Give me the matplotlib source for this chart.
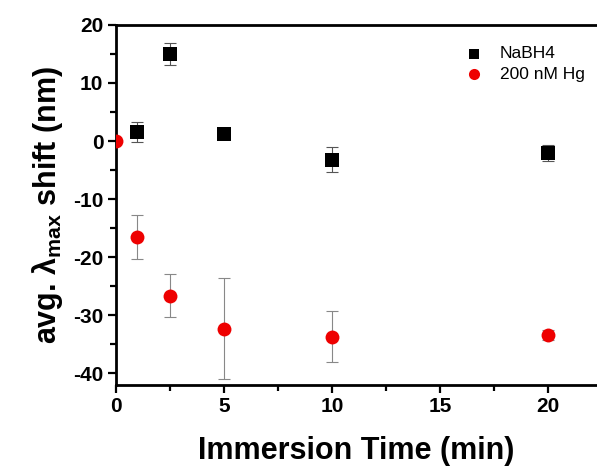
import numpy as np
import matplotlib
matplotlib.use('Agg')
import matplotlib.pyplot as plt
from matplotlib.ticker import MultipleLocator

# NaBH4 control
t_na = [1, 2.5, 5, 10, 20]
shift_na = [1.5, 15.0, 1.2, -3.2, -2.0]
err_na = [1.7, 1.9, 0.3, 2.2, 1.4]

# 200 nM Hg
t_hg = [0, 1, 2.5, 5, 10, 20]
shift_hg = [0.0, -16.5, -26.6, -32.3, -33.7, -33.4]
err_hg = [0.0, 3.8, 3.7, 8.7, 4.4, 0.8]

plt.rcParams['font.family'] = 'Liberation Sans'
plt.rcParams['axes.unicode_minus'] = False
plt.rcParams['mathtext.fontset'] = 'custom'
plt.rcParams['mathtext.rm'] = 'Liberation Sans:bold'
plt.rcParams['mathtext.it'] = 'Liberation Sans:bold'
plt.rcParams['mathtext.bf'] = 'Liberation Sans:bold'

fig = plt.figure(figsize=(5.97, 4.70), dpi=100)
ax = fig.add_axes([0.194, 0.181, 0.806, 0.766])

# error bars first, markers drawn as scatter so they clip at the axes edge
ax.errorbar(t_na, shift_na, yerr=err_na, fmt='none', ecolor='#555555',
            elinewidth=0.8, capsize=4, capthick=0.8, zorder=2)
ax.errorbar(t_hg, shift_hg, yerr=err_hg, fmt='none', ecolor='#888888',
            elinewidth=0.8, capsize=4, capthick=0.8, zorder=2)
ax.scatter(t_na, shift_na, marker='s', s=90, color='black', lw=0,
           label='NaBH4', zorder=3)
ax.scatter(t_hg, shift_hg, marker='o', s=100, color='#ee0000', lw=0,
           label='200 nM Hg', zorder=3)

ax.set_xlim(0, 22.27)
ax.set_ylim(-42, 20)
ax.xaxis.set_major_locator(MultipleLocator(5))
ax.xaxis.set_minor_locator(MultipleLocator(2.5))
ax.yaxis.set_major_locator(MultipleLocator(10))
ax.yaxis.set_minor_locator(MultipleLocator(5))

for s in ['left', 'bottom', 'top']:
    ax.spines[s].set_linewidth(2)
ax.spines['right'].set_visible(False)
ax.tick_params(which='major', direction='out', length=6, width=1.6,
               labelsize=15, pad=3)
ax.tick_params(which='minor', direction='out', length=4, width=1.6)
ax.tick_params(top=False, which='both')
for lab in ax.get_xticklabels() + ax.get_yticklabels():
    lab.set_fontweight('bold')

ax.set_xlabel('Immersion Time (min)', fontsize=22, fontweight='bold', labelpad=14)
ax.set_ylabel(r'avg. $\lambda_{\mathrm{max}}$ shift (nm)', fontsize=22,
              fontweight='bold', labelpad=6)

ax.legend(loc='upper right', bbox_to_anchor=(1.0, 0.975), frameon=False,
          fontsize=12.5, handletextpad=0.5, borderaxespad=0.3,
          labelspacing=0.3, markerscale=0.8, scatterpoints=1)

fig.savefig('out.png', dpi=100)
